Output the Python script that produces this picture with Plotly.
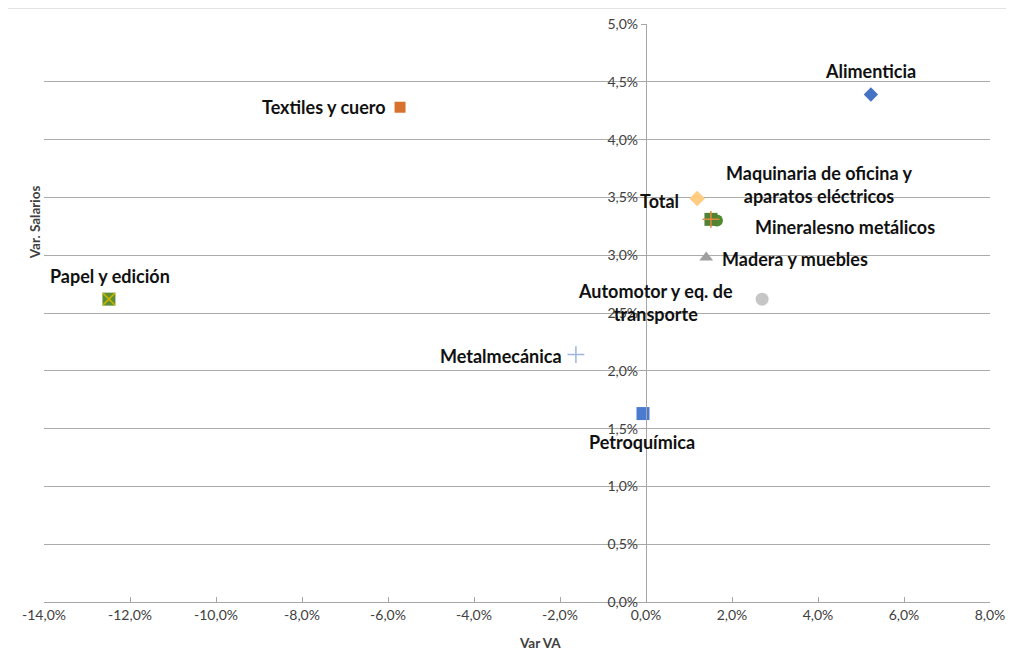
import plotly.graph_objects as go

# ---- data (percent units) ----
sectors = ["Alimenticia", "Textiles y cuero", "Total", "Maquinaria de oficina y aparatos eléctricos",
           "Minerales no metálicos", "Madera y muebles", "Automotor y eq. de transporte",
           "Papel y edición", "Metalmecánica", "Petroquímica"]
label_text = ["Alimenticia", "Textiles y cuero", "Total", "Maquinaria de oficina y<br>aparatos eléctricos",
              "Mineralesno metálicos", "Madera y muebles", "Automotor y eq. de<br>transporte",
              "Papel y edición", "Metalmecánica", "Petroquímica"]
var_va = [5.23, -5.72, 1.19, 1.51, 1.65, 1.40, 2.70, -12.49, -1.63, -0.07]
var_salarios = [4.39, 4.28, 3.49, 3.31, 3.30, 2.98, 2.62, 2.62, 2.14, 1.63]

x_tick_vals = [-14, -12, -10, -8, -6, -4, -2, 0, 2, 4, 6, 8]
x_tick_labels = ["-14,0%", "-12,0%", "-10,0%", "-8,0%", "-6,0%", "-4,0%", "-2,0%",
                 "0,0%", "2,0%", "4,0%", "6,0%", "8,0%"]
y_tick_vals = [0, 0.5, 1, 1.5, 2, 2.5, 3, 3.5, 4, 4.5, 5]
y_tick_labels = ["0,0%", "0,5%", "1,0%", "1,5%", "2,0%", "2,5%", "3,0%", "3,5%", "4,0%", "4,5%", "5,0%"]

x_title = "Var VA"
y_title = "Var. Salarios"

# ---- styles ----
marker_styles = [
    dict(symbol="diamond", color="#4472C4", size=11),
    dict(symbol="square", color="#D9712E", size=11),
    dict(symbol="diamond", color="#FFCC80", size=12),
    dict(symbol="square", color="#548235", size=13),
    dict(symbol="circle", color="#4F8A2E", size=12),
    dict(symbol="triangle-up", color="#A0A0A0", size=12),
    dict(symbol="circle", color="#C6C6C6", size=13),
    dict(symbol="square", color="#5E8E33", size=13),
    dict(symbol="cross-thin", color="#9EB4E0", size=12, line=dict(color="#9EB4E0", width=1.5)),
    dict(symbol="square", color="#4A7BD0", size=13),
]
overlays = {
    3: dict(symbol="cross-thin", color="#E08A3A", size=12, line=dict(color="#E08A3A", width=1.5)),
    7: dict(symbol="x-thin", color="#C8B400", size=12, line=dict(color="#C8B400", width=1.5)),
}
# label placement: xanchor, xshift, yshift
label_pos = [
    ("center", 0, 24),
    ("right", -12, 0),
    ("right", -16, -2),
    ("center", 109, 35),
    ("left", 36, -6),
    ("left", 14, -1),
    ("center", -107, -3),
    ("center", 1, 23),
    ("right", -12, -1),
    ("center", -1, -28),
]

fig = go.Figure()
for i in [4] + [j for j in range(len(sectors)) if j != 4]:
    fig.add_trace(go.Scatter(x=[var_va[i]], y=[var_salarios[i]], mode="markers",
                             name=sectors[i], marker=marker_styles[i],
                             showlegend=False, cliponaxis=False))
    if i in overlays:
        fig.add_trace(go.Scatter(x=[var_va[i]], y=[var_salarios[i]], mode="markers",
                                 marker=overlays[i], showlegend=False, hoverinfo="skip"))

FONT = "Lato"
for i in range(len(sectors)):
    xa, xs, ys = label_pos[i]
    fig.add_annotation(x=var_va[i], y=var_salarios[i], xref="x", yref="y", text=label_text[i],
                       showarrow=False, xanchor=xa, yanchor="middle", xshift=xs, yshift=ys,
                       align="center",
                       font=dict(family=FONT, size=18, color="#111111", weight="bold"))

# axis titles
fig.add_annotation(x=0.524, y=-0.071, xref="paper", yref="paper", text=x_title, showarrow=False,
                   xanchor="center", yanchor="middle",
                   font=dict(family=FONT, size=13.5, color="#404040", weight="bold"))
fig.add_annotation(x=-0.0095, y=0.657, xref="paper", yref="paper", text=y_title, showarrow=False,
                   textangle=-90, xanchor="center", yanchor="middle",
                   font=dict(family=FONT, size=13.5, color="#404040", weight="bold"))

# chart border lines (left & top)
fig.add_shape(type="line", xref="paper", yref="paper", x0=-0.0391, x1=-0.0391, y0=-0.2, y1=1.0277,
              line=dict(color="#D9D9D9", width=1.5))
fig.add_shape(type="line", xref="paper", yref="paper", x0=-0.0391, x1=1.1, y0=1.0277, y1=1.0277,
              line=dict(color="#D9D9D9", width=1.5))

fig.update_layout(
    width=1006, height=652,
    margin=dict(l=36, r=24, t=16, b=58, autoexpand=False),
    paper_bgcolor="white", plot_bgcolor="white",
    font=dict(family=FONT, size=14, color="#404040"),
    xaxis=dict(range=[-14, 8], tickvals=x_tick_vals, ticktext=x_tick_labels, automargin=False,
               showgrid=False, zeroline=False, showline=True, linecolor="#A6A6A6", linewidth=1.3,
               ticks="inside", ticklen=5, tickcolor="#A6A6A6", tickfont=dict(size=14, color="#404040"),
               anchor="y", domain=[0, 1]),
    yaxis=dict(range=[0, 5], tickvals=y_tick_vals, ticktext=y_tick_labels, automargin=False,
               showgrid=True, gridcolor="#ABABAB", gridwidth=1.3, zeroline=False,
               showline=True, linecolor="#A6A6A6", linewidth=1.3,
               ticks="outside", ticklen=5, tickcolor="#A6A6A6",
               tickfont=dict(size=14, color="#404040"),
               anchor="free", position=14 / 22),
    showlegend=False,
)

fig.write_html("out.html")
